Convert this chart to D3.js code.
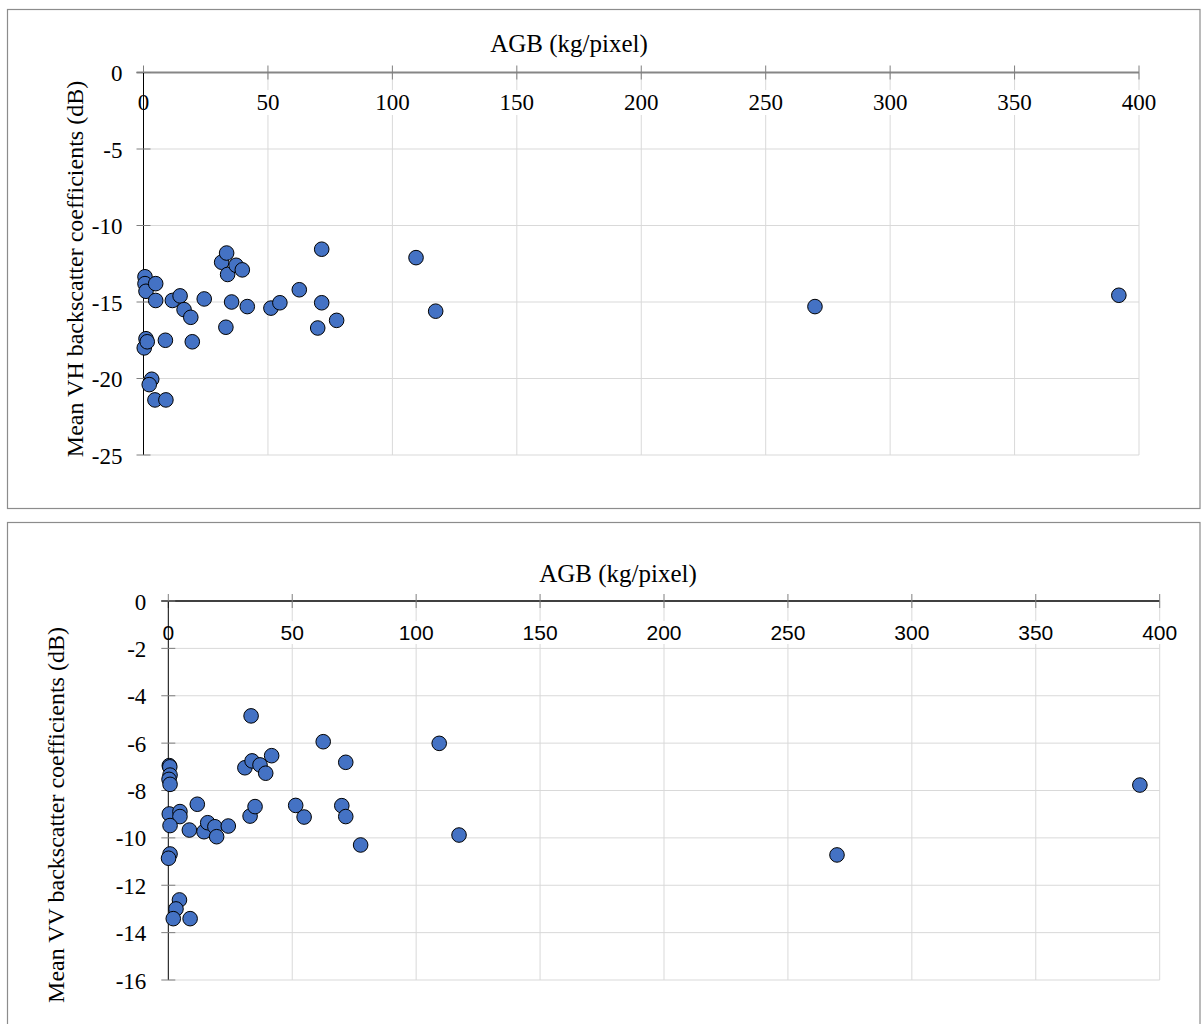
<!DOCTYPE html>
<html>
<head>
<meta charset="utf-8">
<script src="https://cdn.jsdelivr.net/npm/d3@7"></script>
<style>
  body { margin: 0; background: #fff; }
  svg { display: block; }
</style>
</head>
<body>
<div id="chart-area"></div>
<script>
// Data
const agbVH = [0.6, 0.6, 1.0, 4.9, 4.9, 1.0, 0.3, 1.5, 3.3, 2.3, 4.6, 9.0, 8.8,
  11.6, 14.7, 16.3, 19.0, 19.6, 24.4, 31.4, 33.4, 33.8, 37.2, 39.7, 35.4, 41.7, 33.1,
  51.2, 54.8, 62.6, 71.6, 71.6, 70.0, 77.6, 109.5, 117.4, 269.8, 391.9];
const meanVH = [-13.35, -13.8, -14.3, -13.8, -14.9, -17.4, -18.0, -17.6, -20.05, -20.4, -21.4, -21.4, -17.5,
  -14.9, -14.6, -15.5, -16.0, -17.6, -14.8, -12.4, -11.8, -13.2, -12.6, -12.9, -15.0, -15.3, -16.65,
  -15.4, -15.05, -14.2, -11.55, -15.05, -16.7, -16.2, -12.1, -15.6, -15.3, -14.56];

const agbVV = [33.4, 62.5, 109.3, 0.4, 0.6, 0.7, 0.3, 0.7, 30.9, 33.8, 37.0, 39.3, 41.7, 71.6,
  0.4, 4.7, 4.7, 0.7, 11.7, 8.5, 14.4, 15.9, 18.8, 19.5, 24.2, 33.0, 35.0, 51.4, 54.8, 70.0, 71.6, 77.6,
  117.3, 0.7, 0.1, 4.5, 3.1, 2.0, 8.8, 269.8, 392.0];
const meanVV = [-4.85, -5.94, -6.01, -6.95, -7.0, -7.35, -7.53, -7.74, -7.04, -6.75, -6.92, -7.27, -6.53, -6.81,
  -8.99, -8.89, -9.1, -9.48, -8.58, -9.67, -9.74, -9.36, -9.53, -9.95, -9.5, -9.08, -8.68, -8.63, -9.12, -8.64, -9.1, -10.3,
  -9.88, -10.68, -10.86, -12.62, -13.0, -13.41, -13.41, -10.72, -7.77];

const xTicks = [0, 50, 100, 150, 200, 250, 300, 350, 400];
const vhTicks = [0, -5, -10, -15, -20, -25];
const vvTicks = [0, -2, -4, -6, -8, -10, -12, -14, -16];

const serif = "Liberation Serif, serif";
const sans = "Liberation Sans, sans-serif";

const svg = d3.select("#chart-area")
  .append("svg")
  .attr("width", 1201)
  .attr("height", 1024);

function drawPanel(p) {
  const g = svg.append("g");

  // frame
  g.append("rect")
    .attr("x", p.frame.x).attr("y", p.frame.y)
    .attr("width", p.frame.w).attr("height", p.frame.h)
    .attr("fill", "#fff").attr("stroke", "#8c8c8c").attr("stroke-width", 1.2);

  const x = d3.scaleLinear().domain([0, 400]).range([p.left, p.right]);
  const y = d3.scaleLinear().domain(p.yDomain).range([p.bottom, p.top]);
  const y0 = y(0), x0 = x(0);

  // gridlines
  g.selectAll(".hgrid").data(p.yTicks.filter(d => d !== 0)).enter()
    .append("line")
    .attr("x1", x0).attr("x2", x(400))
    .attr("y1", d => y(d)).attr("y2", d => y(d))
    .attr("stroke", "#d9d9d9").attr("stroke-width", 1);

  g.selectAll(".vgrid").data(xTicks.filter(d => d !== 0)).enter()
    .append("line")
    .attr("x1", d => x(d)).attr("x2", d => x(d))
    .attr("y1", y0).attr("y2", y(p.yDomain[0]))
    .attr("stroke", "#d9d9d9").attr("stroke-width", 1);

  // x tick labels (with white backing so gridlines stop under them)
  const xl = g.selectAll(".xlab").data(xTicks).enter()
    .append("text")
    .attr("x", d => x(d))
    .attr("y", y0 + p.xLabOffset)
    .attr("text-anchor", "middle")
    .attr("font-family", p.xLabFont)
    .attr("font-size", p.xLabSize)
    .attr("fill", "#000")
    .text(d => d);
  xl.each(function () {
    const b = this.getBBox();
    g.insert("rect", () => this)
      .attr("x", b.x - 1).attr("y", b.y)
      .attr("width", b.width + 2).attr("height", b.height)
      .attr("fill", "#fff");
  });

  // y tick labels
  g.selectAll(".ylab").data(p.yTicks).enter()
    .append("text")
    .attr("x", x0 - p.yLabGap)
    .attr("y", d => y(d) + 8.5)
    .attr("text-anchor", "end")
    .attr("font-family", serif)
    .attr("font-size", 23)
    .attr("fill", "#000")
    .text(d => d);

  // axes
  g.append("line")
    .attr("x1", x0 - 7).attr("x2", x(400))
    .attr("y1", y0).attr("y2", y0)
    .attr("stroke", p.xAxisColor).attr("stroke-width", p.xAxisWidth);

  g.selectAll(".xtick").data(xTicks).enter()
    .append("line")
    .attr("x1", d => x(d)).attr("x2", d => x(d))
    .attr("y1", y0 - 7).attr("y2", y0 + 7)
    .attr("stroke", "#7f7f7f").attr("stroke-width", 1);

  g.append("line")
    .attr("x1", x0).attr("x2", x0)
    .attr("y1", y0).attr("y2", y(p.yDomain[0]))
    .attr("stroke", "#000").attr("stroke-width", 1);

  g.selectAll(".ytick").data(p.yTicks).enter()
    .append("line")
    .attr("x1", x0 - 7).attr("x2", x0 + 7)
    .attr("y1", d => y(d)).attr("y2", d => y(d))
    .attr("stroke", "#7f7f7f").attr("stroke-width", 1);

  // titles
  g.append("text")
    .attr("x", p.titleX).attr("y", p.titleY)
    .attr("text-anchor", "middle")
    .attr("font-family", serif).attr("font-size", 25)
    .text("AGB (kg/pixel)");

  g.append("text")
    .attr("transform", `translate(${p.yTitleX},${p.yTitleY}) rotate(-90)`)
    .attr("text-anchor", "middle")
    .attr("font-family", serif).attr("font-size", 24)
    .text(p.yTitle);

  // points
  g.selectAll(".pt").data(p.xs.map((v, i) => [v, p.ys[i]])).enter()
    .append("circle")
    .attr("cx", d => x(d[0]))
    .attr("cy", d => y(d[1]))
    .attr("r", 7.3)
    .attr("fill", "#4472c4")
    .attr("stroke", "#000")
    .attr("stroke-width", 1);
}

// top panel (VH)
drawPanel({
  frame: { x: 7.5, y: 9.5, w: 1192.5, h: 499 },
  left: 143.5, right: 1139, top: 72.5, bottom: 455,
  yDomain: [-25, 0], yTicks: vhTicks,
  xs: agbVH, ys: meanVH,
  xAxisColor: "#868686", xAxisWidth: 2.2,
  xLabFont: serif, xLabSize: 23, xLabOffset: 37.5,
  yLabGap: 21,
  titleX: 569, titleY: 52,
  yTitleX: 83, yTitleY: 269,
  yTitle: "Mean VH backscatter coefficients (dB)"
});

// bottom panel (VV)
drawPanel({
  frame: { x: 7.5, y: 522.5, w: 1192.5, h: 560 },
  left: 168.3, right: 1159.7, top: 601, bottom: 980,
  yDomain: [-16, 0], yTicks: vvTicks,
  xs: agbVV, ys: meanVV,
  xAxisColor: "#000", xAxisWidth: 1.5,
  xLabFont: sans, xLabSize: 21, xLabOffset: 39,
  yLabGap: 22,
  titleX: 618, titleY: 582,
  yTitleX: 64, yTitleY: 815,
  yTitle: "Mean VV backscatter coefficients (dB)"
});
</script>
</body>
</html>
